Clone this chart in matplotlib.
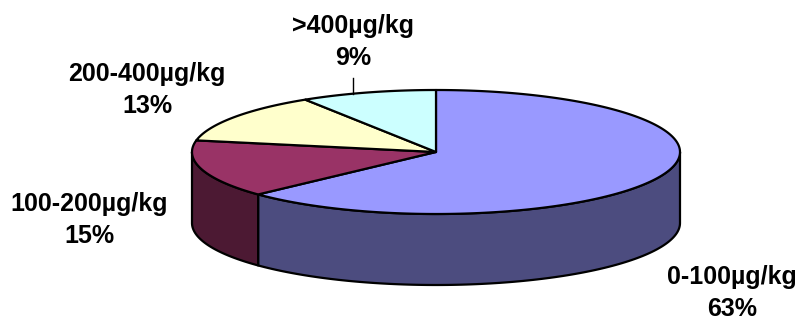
import numpy as np
import matplotlib
matplotlib.use('Agg')
import matplotlib.pyplot as plt
from matplotlib.patches import Polygon

# concentration bands and their shares (%)
categories = ['0-100µg/kg', '100-200µg/kg', '200-400µg/kg', '>400µg/kg']
shares = [63, 15, 13, 9]

top_colors = ['#9999FF', '#993366', '#FFFFCC', '#CCFFFF']
side_colors = ['#4C4C7F', '#4C1933', '#7F7F66', '#667F7F']

# pie geometry in pixels
cx, cy = 436, 152
rx, ry = 244, 62
depth = 71

# label centres (x, y of first line)
label_pos = [(732, 277), (89, 204), (147, 74), (353, 26)]
line_gap = 32

fig = plt.figure(figsize=(8, 3.23), dpi=100)
ax = fig.add_axes([0, 0, 1, 1])
ax.set_xlim(0, 800)
ax.set_ylim(323, 0)
ax.axis('off')


def ell(t, dy=0):
    t = np.radians(t)
    return np.column_stack([cx + rx * np.cos(t), cy - ry * np.sin(t) + dy])


# slice angle ranges, clockwise from 12 o'clock
fracs = np.array(shares) / sum(shares)
ends = 90 - np.cumsum(fracs) * 360
starts = np.concatenate([[90], ends[:-1]])

# side walls (front half only)
for s, e, col in zip(starts, ends, side_colors):
    lo, hi = e, s
    for k in (-1, 0, 1):
        a = max(lo, -180 + 360 * k)
        b = min(hi, 360 * k)
        if b - a <= 0:
            continue
        t = np.linspace(a, b, 120)
        pts = np.vstack([ell(t), ell(t[::-1], depth)])
        ax.add_patch(Polygon(pts, closed=True, fc=col, ec='black', lw=1.6, joinstyle='round'))

# top faces
for s, e, col in zip(starts, ends, top_colors):
    t = np.linspace(e, s, 200)
    pts = np.vstack([[cx, cy], ell(t)])
    ax.add_patch(Polygon(pts, closed=True, fc=col, ec='black', lw=1.6, joinstyle='round'))

# labels
for name, val, (lx, ly) in zip(categories, shares, label_pos):
    ax.text(lx, ly, name, ha='center', va='center', fontsize=18,
            fontweight='bold', family='Liberation Sans')
    ax.text(lx, ly + line_gap, f'{val}%', ha='center', va='center', fontsize=18,
            fontweight='bold', family='Liberation Sans')

# leader line for the smallest slice
lx = label_pos[3][0]
ey = cy - ry * np.sqrt(1 - ((lx - cx) / rx) ** 2)
ax.plot([lx, lx], [label_pos[3][1] + line_gap + 20, ey], color='black', lw=1)

fig.savefig('out.png', dpi=100)
